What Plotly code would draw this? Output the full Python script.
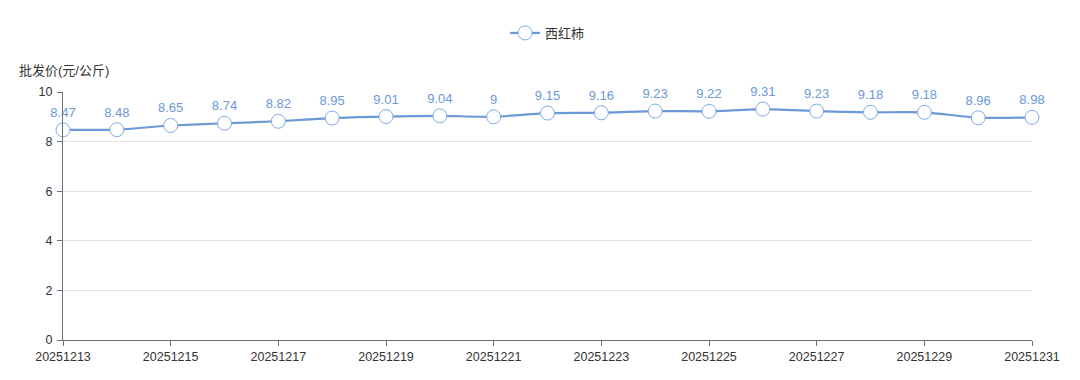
import plotly.graph_objects as go

dates = ["20251213","20251214","20251215","20251216","20251217","20251218","20251219",
         "20251220","20251221","20251222","20251223","20251224","20251225","20251226",
         "20251227","20251228","20251229","20251230","20251231"]
prices = [8.47, 8.48, 8.65, 8.74, 8.82, 8.95, 9.01, 9.04, 9, 9.15, 9.16, 9.23, 9.22,
          9.31, 9.23, 9.18, 9.18, 8.96, 8.98]
price_labels = ["8.47","8.48","8.65","8.74","8.82","8.95","9.01","9.04","9","9.15","9.16",
                "9.23","9.22","9.31","9.23","9.18","9.18","8.96","8.98"]
series_name = "西红柿"
y_title = "批发价(元/公斤)"
y_ticks = [0, 2, 4, 6, 8, 10]
x_tick_labels = dates[::2]

line_color = "#6b98d7"
marker_edge = "#7eaae6"
font_family = "Liberation Sans, Arial, Noto Sans CJK SC, sans-serif"

# page body has an 8px default margin; size figure to fit the 1080x380 window
W, H = 1072, 372

fig = go.Figure()
fig.add_trace(go.Scatter(
    x=dates, y=prices, name=series_name,
    mode="lines+markers+text",
    line=dict(color=line_color, width=2.2, shape="spline", smoothing=0.5),
    marker=dict(size=14, color="white", line=dict(color=marker_edge, width=1)),
    text=price_labels, textposition="top center",
    textfont=dict(color=line_color, size=13, family=font_family),
    cliponaxis=False,
))

fig.update_layout(
    width=W, height=H,
    margin=dict(l=55, r=48, t=84, b=40),
    paper_bgcolor="white", plot_bgcolor="white",
    font=dict(family=font_family, size=12.5, color="#333"),
    showlegend=True,
    legend=dict(orientation="h", x=0.5, xanchor="center",
                y=1 - 25 / H, yanchor="middle", yref="container",
                font=dict(size=13, color="#333")),
    xaxis=dict(type="category", range=[0, len(dates) - 1], automargin=False,
               tickmode="array", tickvals=x_tick_labels, ticktext=x_tick_labels,
               showline=True, linecolor="#6e7079", linewidth=1,
               ticks="outside", ticklen=5, tickcolor="#6e7079",
               showgrid=False, zeroline=False,
               tickfont=dict(size=12.5, color="#333")),
    yaxis=dict(range=[0, 10], tickvals=y_ticks, automargin=False,
               showline=True, linecolor="#6e7079", linewidth=1,
               ticks="outside", ticklen=5, tickcolor="#6e7079",
               ticklabelstandoff=2,
               showgrid=True, gridcolor="#e0e0e0", gridwidth=1,
               zeroline=False, tickfont=dict(size=12.5, color="#333")),
    annotations=[dict(text=y_title, xref="paper", yref="paper",
                      x=-46 / 969, y=1 + 22 / 248,
                      xanchor="left", yanchor="middle",
                      showarrow=False, font=dict(size=13, color="#333"))],
)

fig.write_html("out.html")
